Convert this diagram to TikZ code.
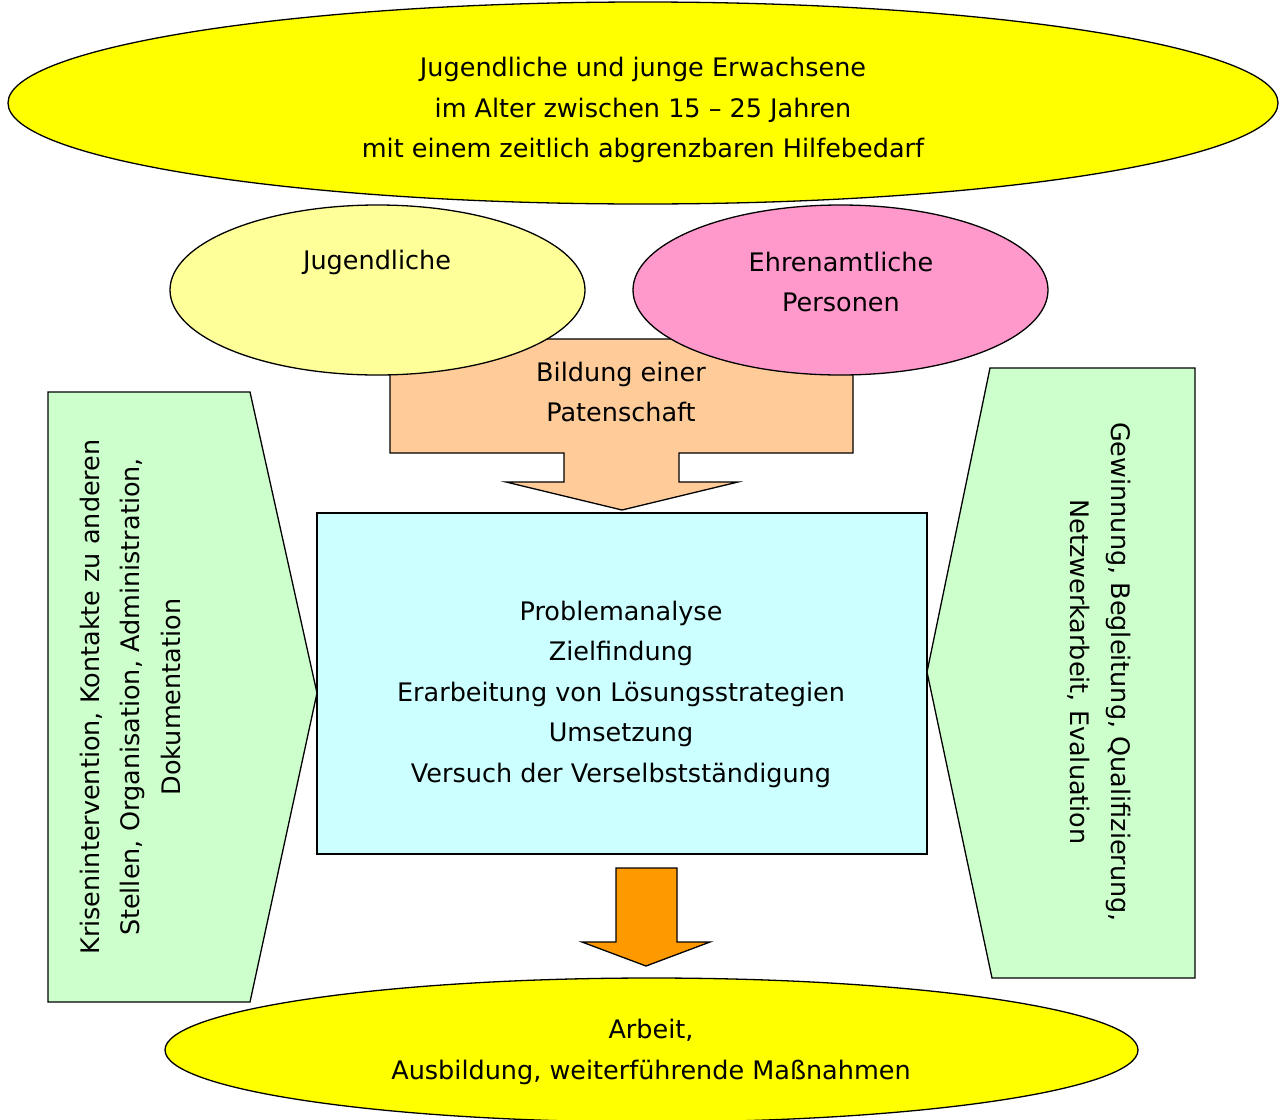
\documentclass[tikz,border=0pt]{standalone}
\usepackage{fontspec}
\setmainfont{DejaVu Sans}
\usetikzlibrary{shapes.geometric}
\definecolor{cYellow}{HTML}{FFFF00}
\definecolor{cLightYellow}{HTML}{FFFF99}
\definecolor{cPink}{HTML}{FF99CC}
\definecolor{cPeach}{HTML}{FFCC99}
\definecolor{cCyan}{HTML}{CCFFFF}
\definecolor{cGreen}{HTML}{CCFFCC}
\definecolor{cOrange}{HTML}{FF9900}
\begin{document}
\begin{tikzpicture}[x=1pt,y=-1pt,
  shapeline/.style={draw=black,line width=1.3pt,line join=miter},
  lbl/.style={align=center,font=\fontsize{25.5}{40.5}\selectfont,inner sep=0pt,text=black}]
\useasboundingbox (0,0) rectangle (1281,1119);
\fill[white] (0,0) rectangle (1281,1119);

% peach block arrow (behind the two ellipses)
\draw[shapeline,fill=cPeach] (390,339) -- (853,339) -- (853,453) -- (679,453) -- (679,482)
  -- (738,482) -- (622,510) -- (506,482) -- (564,482) -- (564,453) -- (390,453) -- cycle;

% top ellipse
\draw[shapeline,fill=cYellow] (643,103) ellipse [x radius=635, y radius=101];
\node[lbl] (top) at (643,110) {Jugendliche und junge Erwachsene\\im Alter zwischen 15 -- 25 Jahren\\mit einem zeitlich abgrenzbaren Hilfebedarf};

% two middle ellipses
\draw[shapeline,fill=cLightYellow] (377.5,290) ellipse [x radius=207.5, y radius=85];
\draw[shapeline,fill=cPink] (840.5,290) ellipse [x radius=207.5, y radius=85];
\node[lbl] (jug) at (377,262) {Jugendliche};
\node[lbl] (ehr) at (841,282) {Ehrenamtliche\\Personen};
\node[lbl] (pat) at (621,392) {Bildung einer\\Patenschaft};

% central box
\draw[shapeline,fill=cCyan] (317,513) rectangle (927,854);
\node[lbl] (mid) at (621,694) {Problemanalyse\\Zielfindung\\Erarbeitung von Lösungsstrategien\\Umsetzung\\Versuch der Verselbstständigung};

% left chevron
\draw[shapeline,fill=cGreen] (48,392) -- (250,392) -- (317,693) -- (250,1002) -- (48,1002) -- cycle;
\node[lbl,rotate=90] (left) at (130,697) {Krisenintervention, Kontakte zu anderen\\Stellen, Organisation, Administration,\\Dokumentation};

% right chevron
\draw[shapeline,fill=cGreen] (990,368) -- (1195,368) -- (1195,978) -- (992,978) -- (927,672) -- cycle;
\node[lbl,rotate=-90] (right) at (1099,672) {Gewinnung, Begleitung, Qualifizierung,\\Netzwerkarbeit, Evaluation};

% orange down arrow
\draw[shapeline,fill=cOrange] (616,868) -- (677,868) -- (677,942) -- (710,942) -- (646,966)
  -- (582,942) -- (616,942) -- cycle;

% bottom ellipse
\draw[shapeline,fill=cYellow] (651.5,1050) ellipse [x radius=486.5, y radius=72];
\node[lbl] (bot) at (651,1052) {Arbeit,\\Ausbildung, weiterführende Maßnahmen};
\end{tikzpicture}
\end{document}
